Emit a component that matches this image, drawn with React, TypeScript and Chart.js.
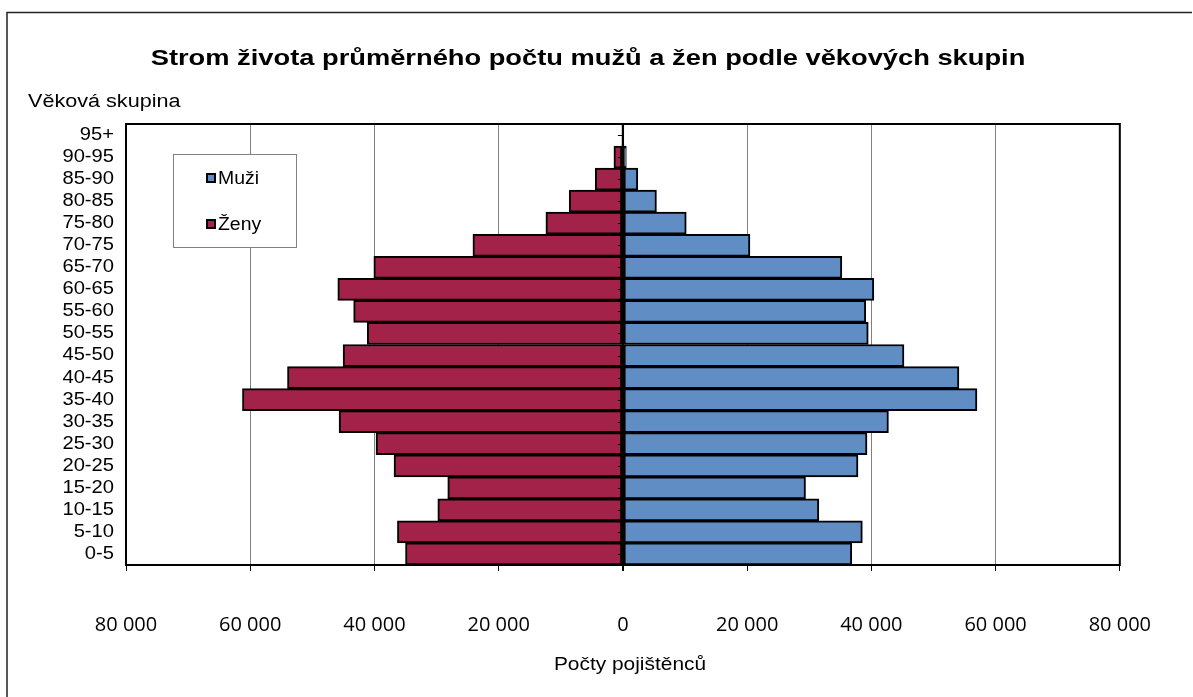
import React, { useEffect, useRef } from "react";
import { Chart, registerables } from "chart.js";

Chart.register(...registerables);

const categories = ["95+", "90-95", "85-90", "80-85", "75-80", "70-75", "65-70", "60-65", "55-60", "50-55", "45-50", "40-45", "35-40", "30-35", "25-30", "20-25", "15-20", "10-15", "5-10", "0-5"];
const muzi = [150, 550, 2400, 5400, 10200, 20450, 35250, 40400, 39100, 39500, 45250, 54100, 57000, 42750, 39300, 37850, 29400, 31550, 38550, 36850];
const zeny = [150, 1450, 4450, 8650, 12400, 24150, 40100, 45900, 43350, 41150, 45050, 54000, 61250, 45700, 39750, 36850, 28200, 29800, 36300, 35000];
const xTicks = [-80000, -60000, -40000, -20000, 0, 20000, 40000, 60000, 80000];

const TITLE = "Strom života průměrného počtu mužů a žen podle věkových skupin";
const Y_TITLE = "Věková skupina";
const X_TITLE = "Počty pojištěnců";
const LEGEND = ["Muži", "Ženy"];
const BLUE = "#5f8dc4";
const RED = "#a32249";
const ARIAL = "'Liberation Sans', Arial, sans-serif";

const fmt = (v: number) => {
  const a = Math.abs(v);
  return String(a).replace(/\B(?=(\d{3})+(?!\d))/g, " ");
};

function stretchText(ctx: any, text: string, x: number, y: number, align: string, font: string, sx: number) {
  ctx.save();
  ctx.font = font;
  ctx.textAlign = align;
  ctx.textBaseline = "middle";
  ctx.translate(x, y);
  ctx.scale(sx, 1);
  ctx.fillText(text, 0, 0);
  ctx.restore();
}

const decor = {
  id: "decor",
  afterDatasetsDraw(chart: any) {
    const { ctx, chartArea: a, scales } = chart;
    const x0 = scales.x.getPixelForValue(0);
    ctx.save();
    ctx.strokeStyle = "#000";
    ctx.lineWidth = 2;
    ctx.beginPath();
    ctx.moveTo(x0, a.top);
    ctx.lineTo(x0, a.bottom);
    ctx.stroke();
    ctx.lineWidth = 1;
    categories.forEach((_, i) => {
      const y = Math.round(scales.y.getPixelForValue(i)) + 0.5;
      ctx.beginPath();
      ctx.moveTo(x0 - 5, y);
      ctx.lineTo(x0, y);
      ctx.stroke();
    });
    ctx.lineWidth = 2;
    ctx.strokeRect(a.left, a.top, a.right - a.left, a.bottom - a.top);
    ctx.restore();
  },
  afterDraw(chart: any) {
    const { ctx, scales } = chart;
    ctx.save();
    ctx.strokeStyle = "#222";
    ctx.lineWidth = 1.5;
    ctx.beginPath();
    ctx.moveTo(7, 700);
    ctx.lineTo(7, 12.5);
    ctx.lineTo(1192, 12.5);
    ctx.stroke();
    ctx.fillStyle = "#000";
    stretchText(ctx, TITLE, 588, 59, "center", "bold 22px " + ARIAL, 1.24);
    stretchText(ctx, Y_TITLE, 28, 102, "left", "18px " + ARIAL, 1.2);
    stretchText(ctx, X_TITLE, 630, 665, "center", "19px " + ARIAL, 1.1);
    categories.forEach((c, i) => {
      const y = scales.y.getPixelForValue(i);
      stretchText(ctx, c, 114, y, "right", "18px " + ARIAL, 1.12);
    });
    const lx = 173.5, ly = 154.5, lw = 123, lh = 93;
    ctx.fillStyle = "#fff";
    ctx.fillRect(lx, ly, lw, lh);
    ctx.strokeStyle = "#808080";
    ctx.lineWidth = 1;
    ctx.strokeRect(lx, ly, lw, lh);
    const cols = [BLUE, RED];
    const ys = [178, 224];
    LEGEND.forEach((t, i) => {
      ctx.fillStyle = cols[i];
      ctx.fillRect(207, ys[i] - 4, 8, 8);
      ctx.strokeStyle = "#000";
      ctx.lineWidth = 2;
      ctx.strokeRect(207, ys[i] - 4, 8, 8);
      ctx.fillStyle = "#000";
      stretchText(ctx, t, 218, ys[i] + 1, "left", "18px " + ARIAL, 1.08);
    });
    ctx.restore();
  },
};

export default function App() {
  const ref = useRef<HTMLCanvasElement>(null);
  useEffect(() => {
    if (!ref.current) return;
    const chart = new Chart(ref.current, {
      type: "bar",
      data: {
        labels: categories,
        datasets: [
          { label: "Muži", data: muzi, backgroundColor: BLUE, borderColor: "#000", borderWidth: 2, borderSkipped: false as any },
          { label: "Ženy", data: zeny.map((v) => -v), backgroundColor: RED, borderColor: "#000", borderWidth: 2, borderSkipped: false as any },
        ],
      },
      options: {
        indexAxis: "y",
        animation: false,
        responsive: false,
        maintainAspectRatio: false,
        layout: { padding: { top: 124, right: 73, left: 0, bottom: 0 } },
        datasets: { bar: { categoryPercentage: 1, barPercentage: 1 } },
        plugins: { legend: { display: false }, title: { display: false }, tooltip: { enabled: false } },
        scales: {
          x: {
            stacked: true,
            min: -80000,
            max: 80000,
            afterBuildTicks: (s: any) => { s.ticks = xTicks.map((v) => ({ value: v })); },
            afterFit: (s: any) => { s.height = 132; },
            ticks: {
              autoSkip: false,
              maxRotation: 0,
              padding: 42,
              color: "#000",
              font: { family: "Open Sans", size: 20 },
              callback: (v: any) => fmt(Number(v)),
            },
            grid: {
              color: (c: any) => (c.tick && c.tick.value === 0 ? "#000" : "#808080"),
              lineWidth: (c: any) => (c.tick && c.tick.value === 0 ? 2 : 1),
              tickColor: "#000",
              tickLength: 6,
              drawTicks: true,
            },
            border: { display: false },
          },
          y: {
            stacked: true,
            afterFit: (s: any) => { s.width = 126; },
            ticks: { display: false, autoSkip: false },
            grid: { display: false },
            border: { display: false },
          },
        },
      },
      plugins: [decor],
    });
    return () => chart.destroy();
  }, []);
  return (
    <div style={{ position: "fixed", left: 0, top: 0, width: 1193, height: 697, background: "#fff" }}>
      <canvas ref={ref} width={1193} height={697} style={{ width: 1193, height: 697, display: "block" }} />
    </div>
  );
}
